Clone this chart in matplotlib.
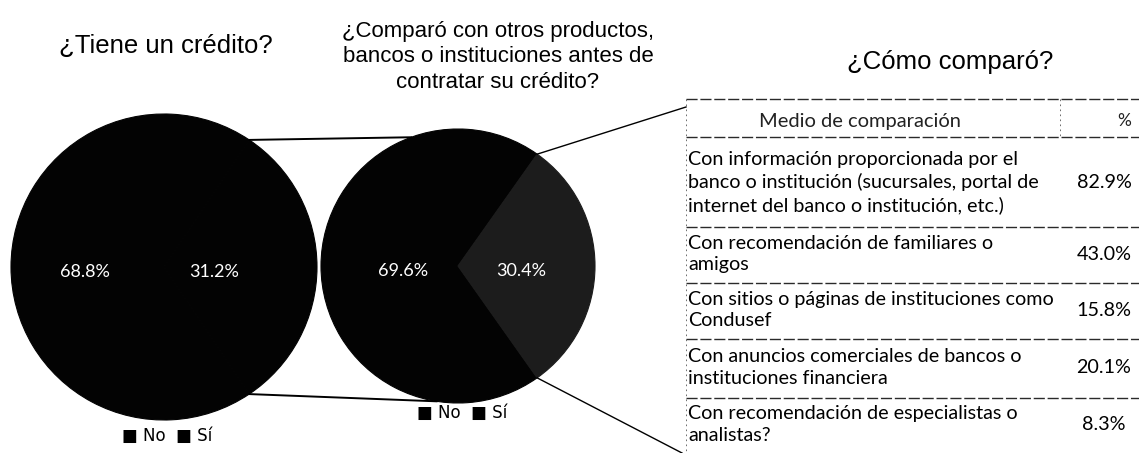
import numpy as np
import matplotlib
matplotlib.use("Agg")
import matplotlib.pyplot as plt

# ---------------- data ----------------
pie_labels = ["No", "Sí"]
tiene_credito = [68.8, 31.2]
comparo = [69.6, 30.4]

medios = [
    "Con información proporcionada por el\nbanco o institución (sucursales, portal de\ninternet del banco o institución, etc.)",
    "Con recomendación de familiares o\namigos",
    "Con sitios o páginas de instituciones como\nCondusef",
    "Con anuncios comerciales de bancos o\ninstituciones financiera",
    "Con recomendación de especialistas o\nanalistas?",
]
medios_pct = [82.9, 43.0, 15.8, 20.1, 8.3]

title1 = "¿Tiene un crédito?"
title2 = "¿Comparó con otros productos,\nbancos o instituciones antes de\ncontratar su crédito?"
title3 = "¿Cómo comparó?"
table_header = ["Medio de comparación", "%"]

# ---------------- figure ----------------
W, H = 1139, 453
fig = plt.figure(figsize=(W / 100, H / 100), dpi=100)
ax = fig.add_axes([0, 0, 1, 1])

def Y(y):  # image y (top-down) -> axis y
    return H - y

title_font = ["Liberation Sans", "DejaVu Sans"]
body_font = ["Lato", "DejaVu Sans"]

no_color = "#030303"
si_colors = ["#030303", "#1c1c1c"]

pies = [
    dict(values=tiene_credito, c=(164, 267), r=153, si=si_colors[0],
         dist=[0.52, 0.33], leg=(167, 436)),
    dict(values=comparo, c=(458, 266), r=137, si=si_colors[1],
         dist=[0.40, 0.46], leg=(462, 413)),
]
edges = []
circles = []
for p in pies:
    v = p["values"]
    start = 360 * v[1] / 100 / 2
    cols = [no_color, p["si"]]
    wedges, _ = ax.pie(v, colors=cols, startangle=start,
                       center=(p["c"][0], Y(p["c"][1])), radius=p["r"],
                       frame=True)
    for w, c in zip(wedges, cols):
        w.set_edgecolor(c)
        w.set_linewidth(0.8)
    for w, d, val in zip(wedges, p["dist"], v):
        th = np.deg2rad((w.theta1 + w.theta2) / 2)
        x = w.center[0] + d * w.r * np.cos(th)
        y = w.center[1] + d * w.r * np.sin(th)
        ax.text(x, y - 5, f"{val:.1f}%", color="white", ha="center", va="center",
                fontsize=13, family=body_font)
    si = wedges[1]
    edges.append([(si.center[0] + si.r * np.cos(np.deg2rad(a)),
                   si.center[1] + si.r * np.sin(np.deg2rad(a)))
                  for a in (si.theta1, si.theta2)])
    circles.append((si.center, si.r))
    lx, ly = p["leg"]
    ax.text(lx, Y(ly), "■ No  ■ Sí", ha="center", va="center", fontsize=12,
            family=["DejaVu Sans"], color="black")

def on_circle(k, ang):
    (cx, cy), r = circles[k]
    return cx + r * np.cos(np.deg2rad(ang)), cy + r * np.sin(np.deg2rad(ang))

# connecting lines pie1 -> pie2
(b1, t1), (b2, t2) = edges
p_top = on_circle(1, 110)
p_bot = on_circle(1, 261)
ax.plot([t1[0], p_top[0]], [t1[1], p_top[1]], color="black", lw=1.4)
ax.plot([b1[0], p_bot[0]], [b1[1], p_bot[1]], color="black", lw=1.4)
# pie2 -> table
ax.plot([t2[0], 686], [t2[1], Y(107)], color="black", lw=1.0)
ax.plot([b2[0], 682], [b2[1], Y(453)], color="black", lw=1.0)

# titles
ax.text(166, Y(46), title1, ha="center", va="center", fontsize=18.5,
        family=title_font)
ax.text(498, Y(57), title2, ha="center", va="center", fontsize=16,
        family=title_font, linespacing=1.3)
ax.text(950, Y(62), title3, ha="center", va="center", fontsize=18.5,
        family=title_font)

# table
tx0, tx1, tdiv = 686, 1139, 1060
dash = dict(color="#2a2a2a", lw=1.0, linestyle=(0, (8, 2)))
ax.plot([tx0, tx1], [Y(99), Y(99)], **dash)
ax.plot([tx0, tx1], [Y(137), Y(137)], **dash)
ax.text(860, Y(121), table_header[0], ha="center", va="center", fontsize=14.5,
        family=body_font, color="#222222")
ax.text(1124, Y(121), table_header[1], ha="center", va="center", fontsize=12.5,
        family=body_font, color="#222222")
row_tops = [140, 227, 283, 339, 398]
row_bots = [227, 283, 339, 398, 453]
for i, (txt, pct) in enumerate(zip(medios, medios_pct)):
    y0, y1 = row_tops[i], row_bots[i]
    ax.text(tx0 + 2, Y((y0 + y1) / 2 - 1), txt, ha="left", va="center",
            fontsize=14.2, family=body_font, linespacing=1.33)
    ax.text(1104, Y((y0 + y1) / 2 - 1), f"{pct:.1f}%", ha="center", va="center",
            fontsize=14.2, family=body_font)
    if i < len(medios) - 1:
        ax.plot([tx0, tx1], [Y(y1), Y(y1)], **dash)
ax.plot([tx0, tx0], [Y(99), Y(453)], color="#555555", lw=0.6, linestyle=(0, (2, 4)))
ax.plot([tdiv, tdiv], [Y(99), Y(137)], color="#555555", lw=0.6, linestyle=(0, (2, 4)))

ax.set_xlim(0, W)
ax.set_ylim(0, H)
ax.set_aspect("auto")
ax.axis("off")
fig.savefig("out.png", dpi=100)
